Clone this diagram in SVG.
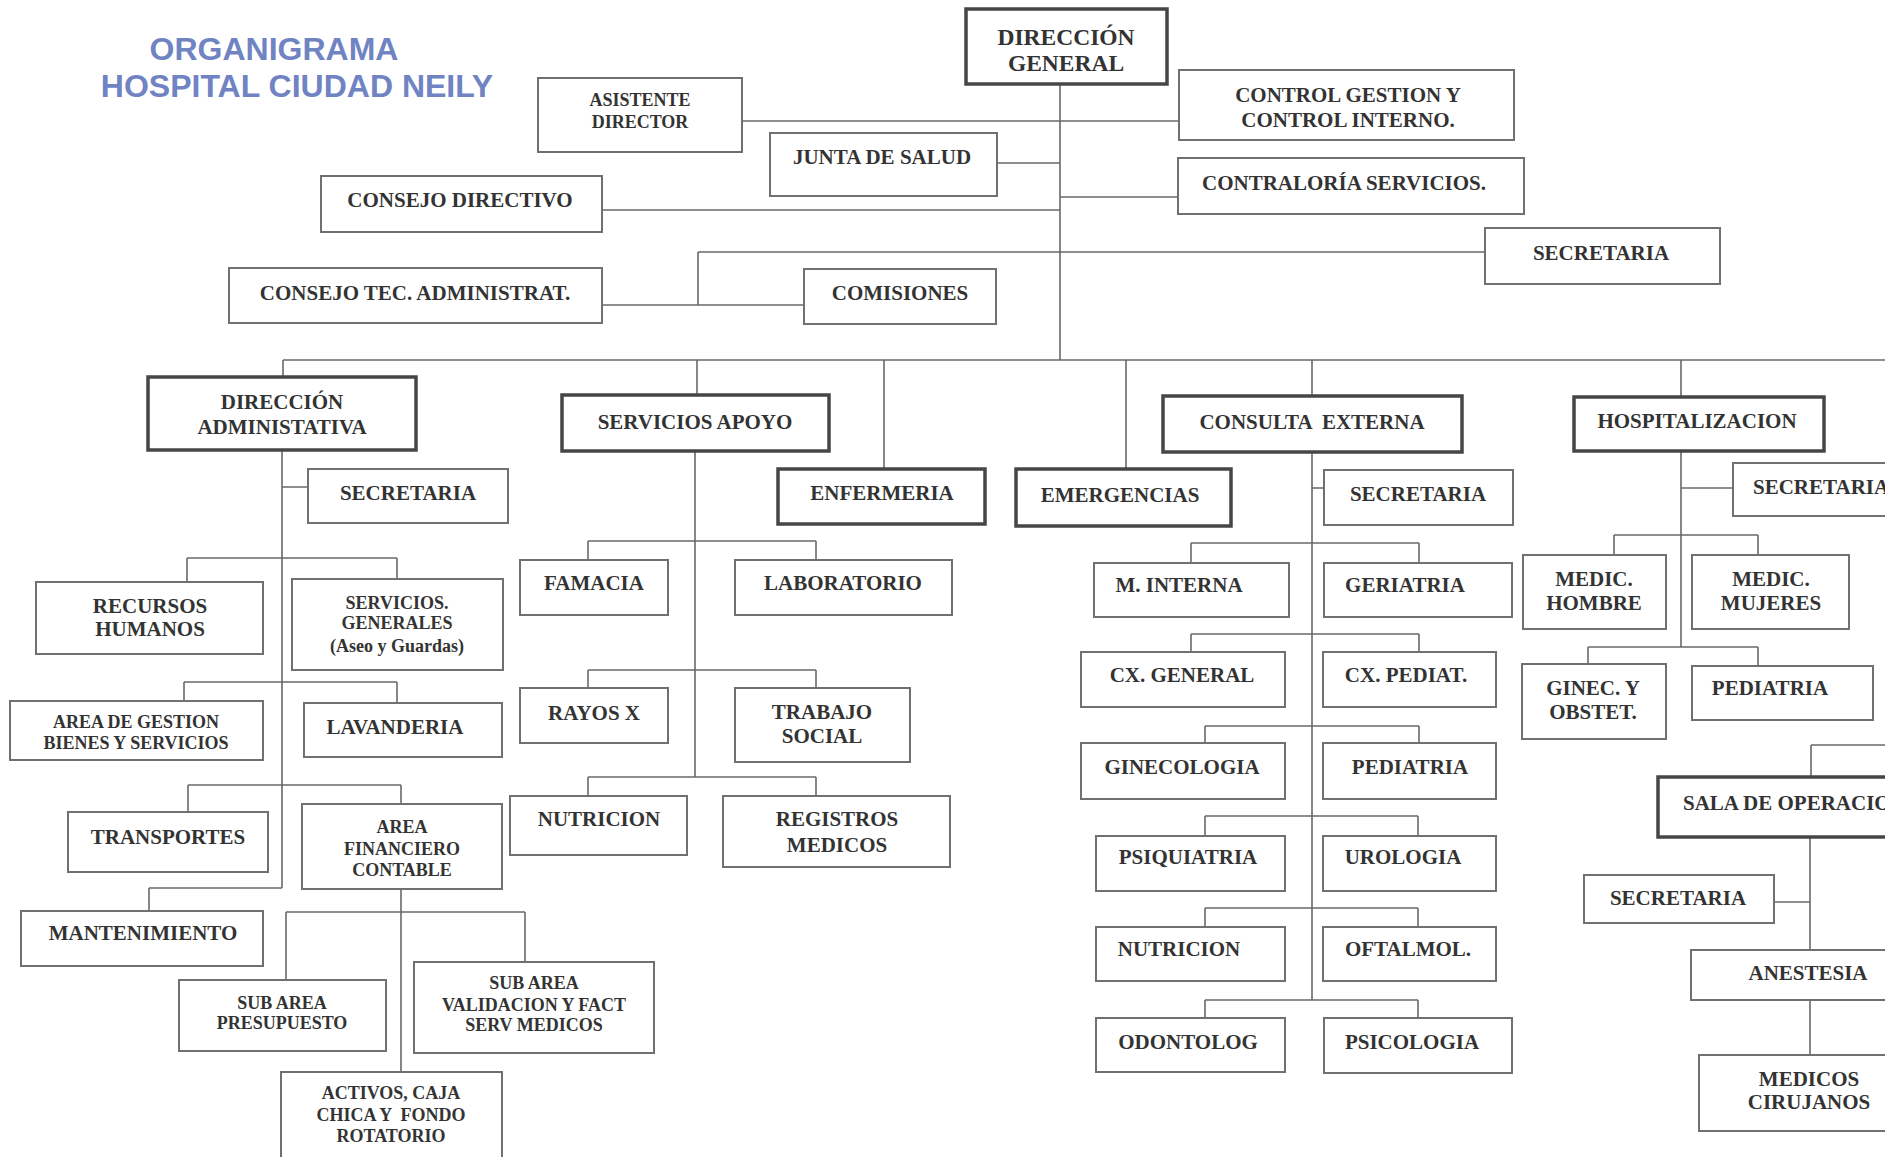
<svg xmlns="http://www.w3.org/2000/svg" width="1892" height="1157" viewBox="0 0 1892 1157">
<style>
.box{fill:#fff;stroke:#707070;stroke-width:2}
.hb{fill:#fff;stroke:#464646;stroke-width:3.5}
text{font-family:"Liberation Serif","Times New Roman",serif;font-weight:bold;font-size:21px;fill:#333;text-anchor:middle;white-space:pre}
.s{font-size:18px}
.g{font-size:23.5px}
.st{text-anchor:start}
.title{font-family:"Liberation Sans",Arial,sans-serif;font-size:32px;fill:#7083c3;font-weight:bold}
#connectors path{fill:none;stroke:#696969;stroke-width:1.6}
</style>
<defs><clipPath id="c"><rect x="0" y="0" width="1885" height="1157"/></clipPath></defs>
<rect width="1892" height="1157" fill="#fff"/>
<g clip-path="url(#c)">
<g id="title">
<text class="title" x="274" y="60">ORGANIGRAMA</text>
<text class="title" x="297" y="97">HOSPITAL CIUDAD NEILY</text>
</g>
<g id="connectors">
<path d="M1060 84V360M742 121H1179M997 163H1060M1060 197H1178M602 210H1060M698 252H1485M698 252V305M602 305H804"/>
<path d="M283 360H1890M283 360V377M697 360V395M884 360V469M1126 360V469M1312 360V396M1681 360V397"/>
<path d="M282 450V888M282 487H308M187 558H397M187 558V582M397 558V579M184 682H397M184 682V701M397 682V703M188 785H401M188 785V812M401 785V804M149 888H282M149 888V911M401 889V1072M286 912H525M286 912V980M525 912V962"/>
<path d="M695 451V777M588 541H816M588 541V560M816 541V560M588 670H816M588 670V688M816 670V688M588 777H816M588 777V796M816 777V796"/>
<path d="M1312 452V1000M1312 488H1324M1191 543H1419M1191 543V563M1419 543V563M1191 634H1419M1191 634V652M1419 634V652M1205 726H1419M1205 726V743M1419 726V743M1205 816H1418M1205 816V836M1418 816V836M1205 908H1418M1205 908V927M1418 908V927M1205 1000H1418M1205 1000V1018M1418 1000V1018"/>
<path d="M1681 451V647M1681 488H1733M1614 535H1758M1614 535V555M1758 535V555M1588 647H1758M1588 647V664M1758 647V666M1811 745H1890M1811 745V777M1810 837V950M1810 1000V1055M1774 902H1810"/>
</g>
<g id="n-dg"><rect class="hb" x="966" y="9" width="201" height="75"/><text class="g" x="1066" y="45">DIRECCIÓN</text><text class="g" x="1066" y="71">GENERAL</text></g>
<g id="n-asistente"><rect class="box" x="538" y="78" width="204" height="74"/><text class="s" x="640" y="106">ASISTENTE</text><text class="s" x="640" y="128">DIRECTOR</text></g>
<g id="n-junta"><rect class="box" x="770" y="133" width="227" height="63"/><text x="882" y="164">JUNTA DE SALUD</text></g>
<g id="n-consejo-dir"><rect class="box" x="321" y="176" width="281" height="56"/><text x="460" y="207">CONSEJO DIRECTIVO</text></g>
<g id="n-control"><rect class="box" x="1179" y="70" width="335" height="70"/><text x="1348" y="102">CONTROL GESTION Y</text><text x="1348" y="127">CONTROL INTERNO.</text></g>
<g id="n-contraloria"><rect class="box" x="1178" y="158" width="346" height="56"/><text x="1344" y="190">CONTRALORÍA SERVICIOS.</text></g>
<g id="n-secretaria-dg"><rect class="box" x="1485" y="228" width="235" height="56"/><text x="1601" y="260">SECRETARIA</text></g>
<g id="n-consejo-tec"><rect class="box" x="229" y="268" width="373" height="55"/><text x="415" y="300">CONSEJO TEC. ADMINISTRAT.</text></g>
<g id="n-comisiones"><rect class="box" x="804" y="269" width="192" height="55"/><text x="900" y="300">COMISIONES</text></g>

<g id="n-da"><rect class="hb" x="148" y="377" width="268" height="73"/><text x="282" y="409">DIRECCIÓN</text><text x="282" y="434">ADMINISTATIVA</text></g>
<g id="n-secretaria-da"><rect class="box" x="308" y="469" width="200" height="54"/><text x="408" y="500">SECRETARIA</text></g>
<g id="n-rrhh"><rect class="box" x="36" y="582" width="227" height="72"/><text x="150" y="613">RECURSOS</text><text x="150" y="636">HUMANOS</text></g>
<g id="n-sg"><rect class="box" x="292" y="579" width="211" height="91"/><text class="s" x="397" y="609">SERVICIOS.</text><text class="s" x="397" y="629">GENERALES</text><text class="s" x="397" y="652">(Aseo y Guardas)</text></g>
<g id="n-gestion"><rect class="box" x="10" y="701" width="253" height="59"/><text class="s" x="136" y="728">AREA DE GESTION</text><text class="s" x="136" y="749">BIENES Y SERVICIOS</text></g>
<g id="n-lavanderia"><rect class="box" x="304" y="703" width="198" height="54"/><text x="395" y="734">LAVANDERIA</text></g>
<g id="n-transportes"><rect class="box" x="68" y="812" width="200" height="60"/><text x="168" y="844">TRANSPORTES</text></g>
<g id="n-financiero"><rect class="box" x="302" y="804" width="200" height="85"/><text class="s" x="402" y="833">AREA</text><text class="s" x="402" y="855">FINANCIERO</text><text class="s" x="402" y="876">CONTABLE</text></g>
<g id="n-mantenimiento"><rect class="box" x="21" y="911" width="242" height="55"/><text x="143" y="940">MANTENIMIENTO</text></g>
<g id="n-presupuesto"><rect class="box" x="179" y="980" width="207" height="71"/><text class="s" x="282" y="1009">SUB AREA</text><text class="s" x="282" y="1029">PRESUPUESTO</text></g>
<g id="n-validacion"><rect class="box" x="414" y="962" width="240" height="91"/><text class="s" x="534" y="989">SUB AREA</text><text class="s" x="534" y="1011">VALIDACION Y FACT</text><text class="s" x="534" y="1031">SERV MEDICOS</text></g>
<g id="n-activos"><rect class="box" x="281" y="1072" width="221" height="100"/><text class="s" x="391" y="1099">ACTIVOS, CAJA</text><text class="s" x="391" y="1121">CHICA Y  FONDO</text><text class="s" x="391" y="1142">ROTATORIO</text></g>

<g id="n-apoyo"><rect class="hb" x="562" y="395" width="267" height="56"/><text x="695" y="429">SERVICIOS APOYO</text></g>
<g id="n-enfermeria"><rect class="hb" x="778" y="469" width="207" height="55"/><text x="882" y="500">ENFERMERIA</text></g>
<g id="n-famacia"><rect class="box" x="520" y="560" width="148" height="55"/><text x="594" y="590">FAMACIA</text></g>
<g id="n-laboratorio"><rect class="box" x="735" y="560" width="217" height="55"/><text x="843" y="590">LABORATORIO</text></g>
<g id="n-rayos"><rect class="box" x="520" y="688" width="148" height="55"/><text x="594" y="720">RAYOS X</text></g>
<g id="n-trabajo"><rect class="box" x="735" y="688" width="175" height="74"/><text x="822" y="719">TRABAJO</text><text x="822" y="743">SOCIAL</text></g>
<g id="n-nutricion-sa"><rect class="box" x="510" y="796" width="177" height="59"/><text x="599" y="826">NUTRICION</text></g>
<g id="n-registros"><rect class="box" x="723" y="796" width="227" height="71"/><text x="837" y="826">REGISTROS</text><text x="837" y="852">MEDICOS</text></g>

<g id="n-emergencias"><rect class="hb" x="1016" y="469" width="215" height="57"/><text x="1120" y="502">EMERGENCIAS</text></g>
<g id="n-consulta"><rect class="hb" x="1163" y="396" width="299" height="56"/><text x="1312" y="429">CONSULTA  EXTERNA</text></g>
<g id="n-secretaria-ce"><rect class="box" x="1324" y="470" width="189" height="55"/><text x="1418" y="501">SECRETARIA</text></g>
<g id="n-minterna"><rect class="box" x="1094" y="563" width="195" height="54"/><text x="1179" y="592">M. INTERNA</text></g>
<g id="n-geriatria"><rect class="box" x="1324" y="563" width="188" height="54"/><text x="1405" y="592">GERIATRIA</text></g>
<g id="n-cxgeneral"><rect class="box" x="1081" y="652" width="204" height="55"/><text x="1182" y="682">CX. GENERAL</text></g>
<g id="n-cxpediat"><rect class="box" x="1323" y="652" width="173" height="55"/><text x="1406" y="682">CX. PEDIAT.</text></g>
<g id="n-ginecologia"><rect class="box" x="1081" y="743" width="204" height="56"/><text x="1182" y="774">GINECOLOGIA</text></g>
<g id="n-pediatria-ce"><rect class="box" x="1323" y="743" width="173" height="56"/><text x="1410" y="774">PEDIATRIA</text></g>
<g id="n-psiquiatria"><rect class="box" x="1096" y="836" width="189" height="55"/><text x="1188" y="864">PSIQUIATRIA</text></g>
<g id="n-urologia"><rect class="box" x="1323" y="836" width="173" height="55"/><text x="1403" y="864">UROLOGIA</text></g>
<g id="n-nutricion-ce"><rect class="box" x="1096" y="927" width="189" height="54"/><text x="1179" y="956">NUTRICION</text></g>
<g id="n-oftalmol"><rect class="box" x="1323" y="927" width="173" height="54"/><text x="1408" y="956">OFTALMOL.</text></g>
<g id="n-odontolog"><rect class="box" x="1096" y="1018" width="189" height="54"/><text x="1188" y="1049">ODONTOLOG</text></g>
<g id="n-psicologia"><rect class="box" x="1324" y="1018" width="188" height="55"/><text x="1412" y="1049">PSICOLOGIA</text></g>

<g id="n-hosp"><rect class="hb" x="1574" y="397" width="250" height="54"/><text x="1697" y="428">HOSPITALIZACION</text></g>
<g id="n-secretaria-h"><rect class="box" x="1733" y="463" width="200" height="53"/><text class="st" x="1753" y="494">SECRETARIA</text></g>
<g id="n-hombre"><rect class="box" x="1523" y="555" width="143" height="74"/><text x="1594" y="586">MEDIC.</text><text x="1594" y="610">HOMBRE</text></g>
<g id="n-mujeres"><rect class="box" x="1692" y="555" width="157" height="74"/><text x="1771" y="586">MEDIC.</text><text x="1771" y="610">MUJERES</text></g>
<g id="n-ginec"><rect class="box" x="1522" y="664" width="144" height="75"/><text x="1593" y="695">GINEC. Y</text><text x="1593" y="719">OBSTET.</text></g>
<g id="n-pediatria-h"><rect class="box" x="1692" y="666" width="181" height="54"/><text x="1770" y="695">PEDIATRIA</text></g>
<g id="n-sala"><rect class="hb" x="1658" y="777" width="260" height="60"/><text class="st" x="1683" y="810">SALA DE OPERACIONES</text></g>
<g id="n-secretaria-so"><rect class="box" x="1584" y="875" width="190" height="48"/><text x="1678" y="905">SECRETARIA</text></g>
<g id="n-anestesia"><rect class="box" x="1691" y="950" width="230" height="50"/><text x="1808" y="980">ANESTESIA</text></g>
<g id="n-cirujanos"><rect class="box" x="1699" y="1055" width="230" height="76"/><text x="1809" y="1086">MEDICOS</text><text x="1809" y="1109">CIRUJANOS</text></g>
</g>
</svg>
